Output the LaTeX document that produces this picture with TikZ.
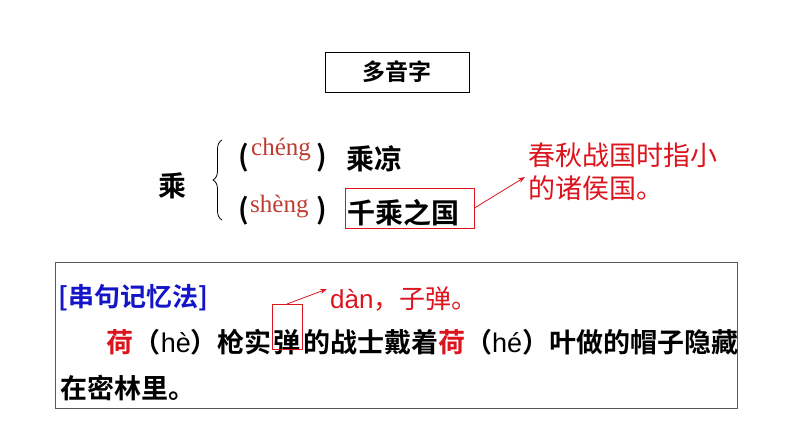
\documentclass[tikz,border=0pt]{standalone}
\usepackage{fontspec}
\newfontfamily\cjk{Noto Sans CJK SC}
\newfontfamily\cjkb{Noto Sans CJK SC Bold}
\newfontfamily\tms{Liberation Serif}
\newfontfamily\arl{Liberation Sans}
\usetikzlibrary{decorations.pathreplacing,arrows.meta}
\definecolor{myred}{RGB}{220,20,30}
\definecolor{pyred}{RGB}{190,60,50}
\definecolor{myblue}{RGB}{20,20,200}
\begin{document}
\begin{tikzpicture}[x=1pt,y=-1pt,
  txt/.style={inner sep=0pt,anchor=west,font=\fontsize{28}{30}\cjkb},
  ltxt/.style={inner sep=0pt,anchor=west,font=\fontsize{27}{29}\cjkb},
  rtxt/.style={inner sep=0pt,anchor=west,text=myred,font=\fontsize{27}{29}\cjk},
  py/.style={inner sep=0pt,anchor=west,text=pyred,font=\fontsize{25}{27}\tms},
  redbox/.style={draw=myred,line width=1pt},
  redarrow/.style={draw=myred,line width=0.8pt,-{Stealth[length=7pt,width=5pt]}}]
\useasboundingbox (0,0) rectangle (794,447);
\node[draw,line width=0.8pt,minimum width=144pt,minimum height=40pt,font=\fontsize{23}{25}\cjkb] (title) at (397,72) {多音字};
\node[txt] (cheng) at (158,186) {乘};
\draw[decorate,decoration={brace,amplitude=9pt},line width=0.8pt] (222,220) -- coordinate[midway] (bm) (222,140);
\node[txt] (l1) at (238,158) {(};
\node[py] (p1) at (251,150) {chéng};
\node[txt] (r1) at (316,158) {)};
\node[txt] (w1) at (346,159) {乘凉};
\node[txt] (l2) at (238,211) {(};
\node[py] (p2) at (250,207) {shèng};
\node[txt] (r2) at (316,211) {)};
\node[txt] (w2) at (347,213) {千乘之国};
\node[redbox,minimum width=129pt,minimum height=40pt] (box2) at (409.5,208) {};
\node[rtxt] (n1) at (528,155) {春秋战国时指小};
\node[rtxt] (n2) at (528,188) {的诸侯国。};
\coordinate (a1) at (525,177);
\draw[redarrow] (box2.east) -- (a1);
\draw[draw=gray!70!black,line width=0.8pt] (55,262) rectangle (737,408);
\node[inner sep=0pt,anchor=west,text=myblue,font=\fontsize{26}{28}\cjkb] (mem) at (58,298) {[串句记忆法]};
\node[inner sep=0pt,anchor=west,text=myred,font=\fontsize{26}{28}\cjk] (dan) at (330,299) {{\arl dàn}，子弹。};
\node[ltxt,anchor=east] (line2a) at (272,342) {{\color{myred}荷}（{\arl hè}）枪实};
\node[ltxt] (dn) at (273.5,342) {弹};
\node[ltxt] (line2b) at (303,342) {的战士戴着{\color{myred}荷}（{\arl hé}）叶做的帽子隐藏};
\node[redbox,minimum width=30pt,minimum height=45pt] (box3) at (287,327) {};
\coordinate (a2) at (327,289);
\draw[redarrow] (box3.north) -- (a2);
\node[ltxt] (line3) at (60,388) {在密林里。};
\end{tikzpicture}
\end{document}
